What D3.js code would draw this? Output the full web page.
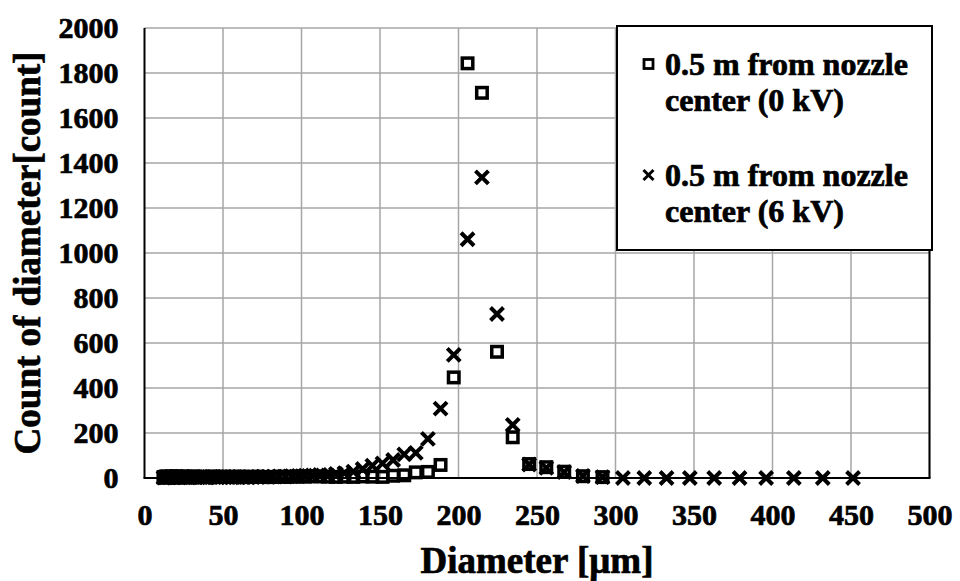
<!DOCTYPE html>
<html>
<head>
<meta charset="utf-8">
<script src="https://cdn.jsdelivr.net/npm/d3@7"></script>
<style>
  html, body { margin: 0; padding: 0; background: #fff; }
  svg { display: block; }
</style>
</head>
<body>
<svg id="chart" width="960" height="581"></svg>
<script>
// Diameter bin centres (µm), logarithmically spaced
const diameters = [
  12.07, 12.61, 13.17, 13.76, 14.37, 15.01, 15.68, 16.38, 17.11, 17.87,
  18.67, 19.50, 20.37, 21.28, 22.23, 23.22, 24.26, 25.34, 26.47, 27.65,
  28.88, 30.17, 31.52, 32.92, 34.39, 35.92, 37.52, 39.20, 40.95, 42.77,
  44.68, 46.67, 48.75, 50.93, 53.20, 55.57, 58.05, 60.64, 63.35, 66.17,
  69.12, 72.20, 75.42, 78.79, 82.30, 85.97, 89.81, 93.81, 98.00, 102.37,
  106.93, 111.70, 116.68, 121.89, 127.32, 133.00, 138.93, 145.13, 151.60, 158.36,
  165.43, 172.81, 180.51, 188.56, 196.97, 205.76, 214.93, 224.52, 234.53, 245.00,
  255.92, 267.34, 279.26, 291.72, 304.73, 318.32, 332.52, 347.35, 362.84, 379.02,
  395.93, 413.59, 432.03, 451.30
];

// Counts at 0.5 m from nozzle centre, 0 kV (bins up to 291.7 µm)
const counts0kV = [
  3, 4, 5, 4, 6, 5, 4, 5, 6, 5,
  4, 5, 6, 5, 4, 5, 6, 4, 5, 5,
  4, 5, 6, 5, 4, 5, 5, 4, 5, 6,
  5, 4, 5, 6, 5, 4, 5, 6, 5, 4,
  5, 6, 5, 4, 5, 6, 5, 6, 7, 6,
  8, 7, 6, 5, 6, 5, 7, 6, 5, 10,
  12, 25, 27, 58, 447, 1843, 1712, 561, 181, 62,
  48, 28, 8, 4
];

// Counts at 0.5 m from nozzle centre, 6 kV (all bins)
const counts6kV = [
  2, 3, 4, 3, 5, 4, 3, 4, 5, 4,
  3, 4, 5, 4, 3, 4, 5, 3, 4, 4,
  3, 4, 5, 4, 3, 4, 4, 3, 4, 5,
  4, 3, 4, 5, 4, 3, 4, 5, 4, 3,
  4, 5, 6, 5, 6, 7, 6, 8, 9, 10,
  12, 14, 11, 18, 22, 28, 40, 55, 65, 80,
  105, 112, 174, 308, 547, 1061, 1336, 729, 236, 60,
  45, 26, 9, 4, 0, 0, 0, 0, 0, 0,
  0, 0, 0, 0
];

const xTicks = [0, 50, 100, 150, 200, 250, 300, 350, 400, 450, 500];
const yTicks = [0, 200, 400, 600, 800, 1000, 1200, 1400, 1600, 1800, 2000];

const seriesNames = [
  ["0.5 m from nozzle", "center (0 kV)"],
  ["0.5 m from nozzle", "center (6 kV)"]
];

const FONT = "'Liberation Serif', 'Times New Roman', serif";

// Heavy serif text: bold face plus a thin outline of the same colour
function heavyText(sel, size) {
  return sel.attr("font-family", FONT).attr("font-size", size)
    .attr("font-weight", "bold").attr("fill", "#000")
    .attr("stroke", "#000").attr("stroke-width", 0.7);
}

const svg = d3.select("#chart");
const plot = { left: 144.5, right: 929.5, top: 28, bottom: 478 };

const x = d3.scaleLinear().domain([0, 500]).range([plot.left, plot.right]);
const y = d3.scaleLinear().domain([0, 2000]).range([plot.bottom, plot.top]);

// Grid lines
const grid = svg.append("g");
grid.selectAll("line.v").data(xTicks.slice(1)).enter().append("line")
  .attr("x1", d => x(d)).attr("x2", d => x(d))
  .attr("y1", plot.top).attr("y2", plot.bottom)
  .attr("stroke", "#a6a6a6").attr("stroke-width", 1.5);
grid.selectAll("line.h").data(yTicks.slice(1)).enter().append("line")
  .attr("x1", plot.left).attr("x2", plot.right)
  .attr("y1", d => y(d)).attr("y2", d => y(d))
  .attr("stroke", "#a6a6a6").attr("stroke-width", 1.5);

// Axes (labels only, no tick marks)
const xAxis = svg.append("g")
  .attr("transform", `translate(0,${plot.bottom})`)
  .call(d3.axisBottom(x).tickValues(xTicks).tickFormat(d3.format("d"))
    .tickSize(0).tickPadding(26));
xAxis.select(".domain").remove();
heavyText(xAxis.selectAll("text"), 30);

const yAxis = svg.append("g")
  .attr("transform", `translate(${plot.left},0)`)
  .call(d3.axisLeft(y).tickValues(yTicks).tickFormat(d3.format("d"))
    .tickSize(0).tickPadding(26));
yAxis.select(".domain").remove();
heavyText(yAxis.selectAll("text"), 30);

// Axis and frame lines
svg.append("line").attr("x1", plot.left).attr("x2", plot.left)
  .attr("y1", plot.top).attr("y2", plot.bottom)
  .attr("stroke", "#000").attr("stroke-width", 2);
svg.append("line").attr("x1", plot.right).attr("x2", plot.right)
  .attr("y1", plot.top).attr("y2", plot.bottom)
  .attr("stroke", "#000").attr("stroke-width", 2);
svg.append("line").attr("x1", plot.left - 1).attr("x2", plot.right + 1)
  .attr("y1", plot.bottom).attr("y2", plot.bottom)
  .attr("stroke", "#000").attr("stroke-width", 2);

// Axis titles
heavyText(svg.append("text"), 37)
  .attr("x", (plot.left + plot.right) / 2).attr("y", 573)
  .attr("text-anchor", "middle")
  .text("Diameter [μm]");
heavyText(svg.append("text"), 37)
  .attr("transform", `translate(40,${(plot.top + plot.bottom) / 2}) rotate(-90)`)
  .attr("text-anchor", "middle")
  .text("Count of diameter[count]");

// Markers
const squareSide = 10.5;
const crossHalf = 6.5;

const pts0 = counts0kV.map((c, i) => ({ d: diameters[i], c }));
const pts6 = counts6kV.map((c, i) => ({ d: diameters[i], c }));

svg.append("g").selectAll("rect").data(pts0).enter().append("rect")
  .attr("x", p => x(p.d) - squareSide / 2)
  .attr("y", p => y(p.c) - squareSide / 2)
  .attr("width", squareSide).attr("height", squareSide)
  .attr("fill", "none").attr("stroke", "#000").attr("stroke-width", 3.5);

svg.append("g").selectAll("path").data(pts6).enter().append("path")
  .attr("d", p => {
    const cx = x(p.d), cy = y(p.c), h = crossHalf;
    return `M${cx - h},${cy - h}L${cx + h},${cy + h}M${cx - h},${cy + h}L${cx + h},${cy - h}`;
  })
  .attr("fill", "none").attr("stroke", "#000").attr("stroke-width", 4);

// Legend
const legend = svg.append("g");
legend.append("rect")
  .attr("x", 617).attr("y", 26).attr("width", 315).attr("height", 224)
  .attr("fill", "#fff").attr("stroke", "#000").attr("stroke-width", 2);

const legendRows = [{ top: 75, marker: "square" }, { top: 186, marker: "cross" }];
legendRows.forEach((row, i) => {
  const mx = 648.5, my = row.top - 11;
  if (row.marker === "square") {
    legend.append("rect").attr("x", mx - 4.5).attr("y", my - 4.5)
      .attr("width", 9).attr("height", 9)
      .attr("fill", "none").attr("stroke", "#000").attr("stroke-width", 2.8);
  } else {
    const h = 5;
    legend.append("path")
      .attr("d", `M${mx - h},${my - h}L${mx + h},${my + h}M${mx - h},${my + h}L${mx + h},${my - h}`)
      .attr("stroke", "#000").attr("stroke-width", 3);
  }
  [0, 1].forEach(j => {
    heavyText(legend.append("text"), 32)
      .attr("x", 665).attr("y", row.top + j * 36)
      .text(seriesNames[i][j]);
  });
});
</script>
</body>
</html>
